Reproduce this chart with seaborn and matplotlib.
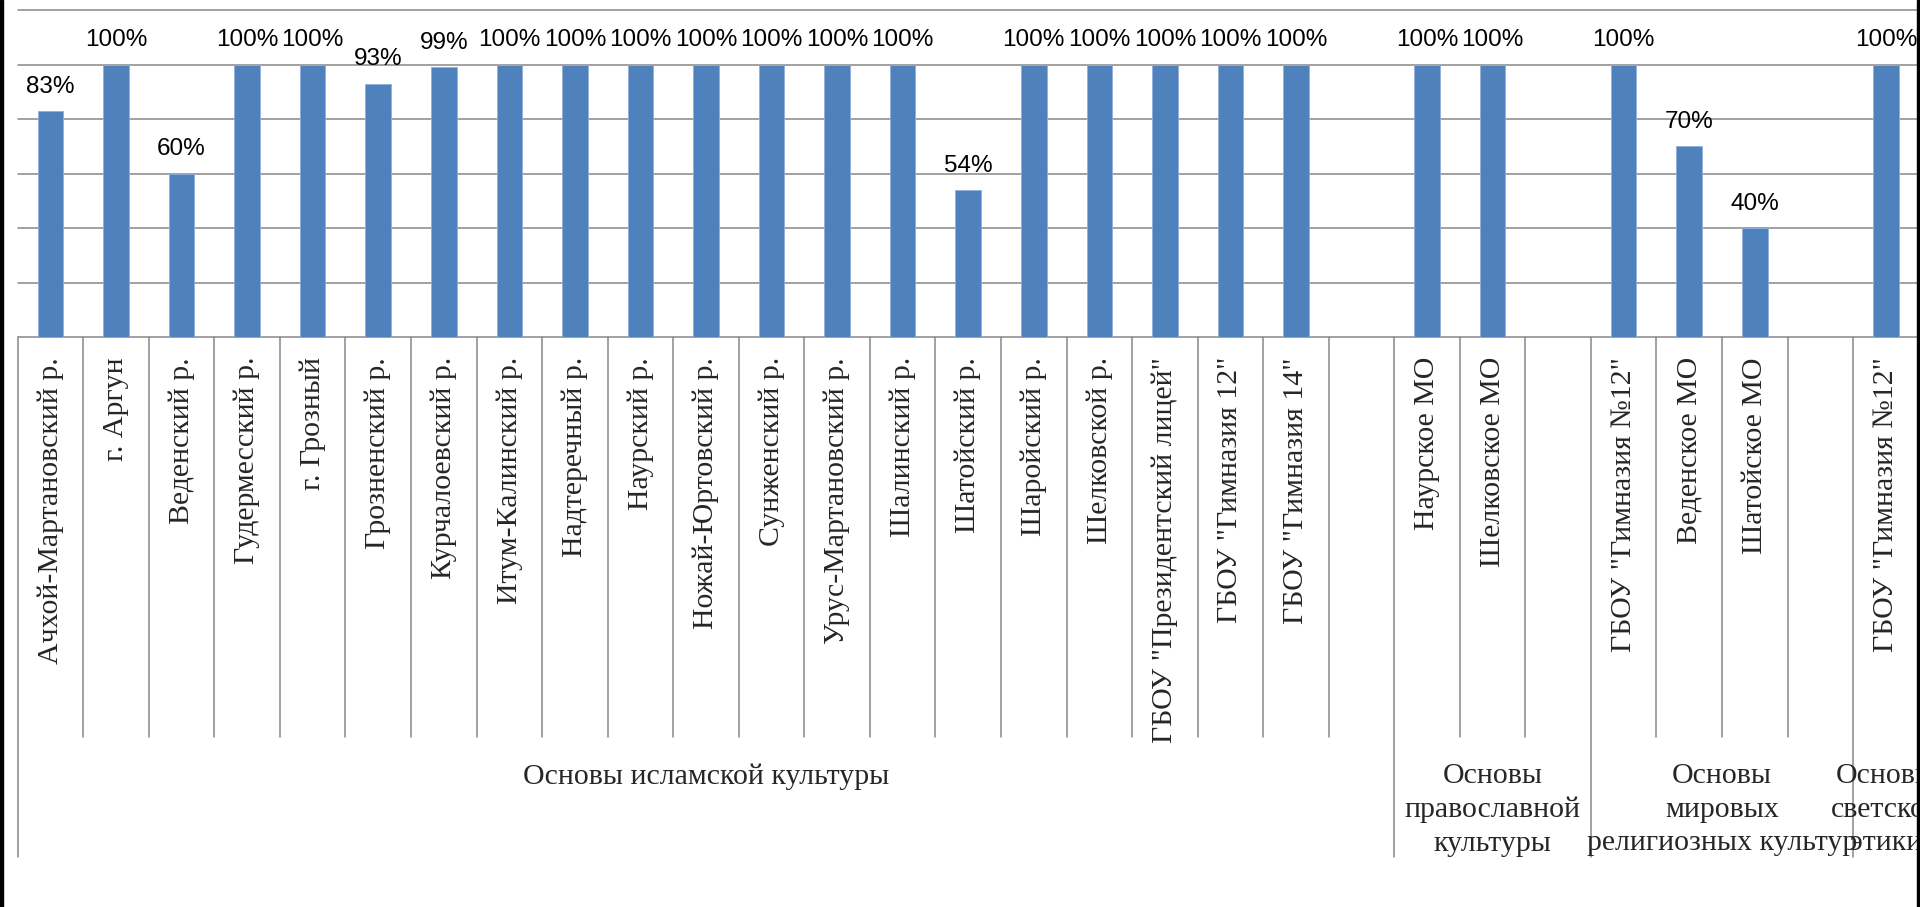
import matplotlib
matplotlib.use("Agg")
import matplotlib.pyplot as plt
import matplotlib.transforms as mtransforms
from matplotlib.patches import Rectangle
import numpy as np
import pandas as pd
import seaborn as sns

# ---------------- data ----------------
categories = [
    "Ачхой-Мартановский р.", "г. Аргун", "Веденский р.", "Гудермесский р.",
    "г. Грозный", "Грозненский р.", "Курчалоевский р.", "Итум-Калинский р.",
    "Надтеречный р.", "Наурский р.", "Ножай-Юртовский р.", "Сунженский р.",
    "Урус-Мартановский р.", "Шалинский р.", "Шатойский р.", "Шаройский р.",
    "Шелковской р.", "ГБОУ \"Президентский лицей\"", "ГБОУ \"Гимназия 12\"",
    "ГБОУ \"Гимназия 14\"", "",
    "Наурское МО", "Шелковское МО", "",
    "ГБОУ \"Гимназия №12\"", "Веденское МО", "Шатойское МО", "",
    "ГБОУ \"Гимназия №12\"",
]
values = [
    0.83, 1.00, 0.60, 1.00,
    1.00, 0.93, 0.99, 1.00,
    1.00, 1.00, 1.00, 1.00,
    1.00, 1.00, 0.54, 1.00,
    1.00, 1.00, 1.00,
    1.00, None,
    1.00, 1.00, None,
    1.00, 0.70, 0.40, None,
    1.00,
]
group_names = [
    "Основы исламской культуры",
    "Основы\nправославной\nкультуры",
    "Основы\nмировых\nрелигиозных культур",
    "Основы\nсветской\nэтики",
]
group_sizes = [21, 3, 4, 1]
y_ticks = [0.0, 0.2, 0.4, 0.6, 0.8, 1.0, 1.2]

# ---------------- style ----------------
sns.set_style("white")
plt.rcParams["font.family"] = ["Liberation Sans", "DejaVu Sans"]

BAR = "#4F81BD"
GRID = "#888888"
SERIF = ["Liberation Serif", "DejaVu Serif"]

W, H = 1920, 907
fig = plt.figure(figsize=(W / 100, H / 100), dpi=100)
left_px, right_px, top_px, bot_px = 17.7, 1918.7, 10, 337
ax = fig.add_axes([left_px / W, 1 - bot_px / H,
                   (right_px - left_px) / W, (bot_px - top_px) / H])

n = len(categories)
df = pd.DataFrame({"pos": list(range(n)), "value": values}).dropna()
df["pos"] = df["pos"].astype(int)

sns.barplot(data=df, x="pos", y="value", order=list(range(n)),
            color=BAR, saturation=1, width=0.39, errorbar=None,
            edgecolor="#8FB0DA", linewidth=0.6, ax=ax, zorder=3)

ax.set_xlim(-0.5, n - 0.5)
ax.set_ylim(y_ticks[0], y_ticks[-1])
ax.set_xlabel("")
ax.set_ylabel("")
ax.set_yticks([])
for s in ax.spines.values():
    s.set_visible(False)

# horizontal gridlines
for t in y_ticks:
    ax.axhline(t, color=GRID, lw=1.1, zorder=1, clip_on=False)

# data labels
for cont in ax.containers:
    ax.bar_label(cont, fmt=lambda v: f"{v * 100:.0f}%", padding=9.5,
                 fontsize=17.5, family=["Liberation Sans", "DejaVu Sans"],
                 color="#000000")

# category tick labels
ax.set_xticks(range(n))
ax.set_xticklabels(categories, rotation=90, fontsize=21.5, family=SERIF)
ax.tick_params(axis="x", length=0, pad=14.4)

# separators
trans = mtransforms.blended_transform_factory(ax.transData, ax.transAxes)
axes_h = bot_px - top_px
tick_bottom = (bot_px - 737) / axes_h
group_bottom = (bot_px - 857) / axes_h
boundaries = np.cumsum([0] + group_sizes)
for k in range(n + 1):
    yb = group_bottom if k in boundaries else tick_bottom
    ax.plot([k - 0.5, k - 0.5], [0, yb], color=GRID, lw=1.1,
            transform=trans, clip_on=False, zorder=1)

# group labels
label_top = (bot_px - 763) / axes_h
for name, start, size in zip(group_names, boundaries[:-1], group_sizes):
    cx = start + size / 2 - 0.5
    ax.text(cx, label_top, name, transform=trans, ha="center", va="top",
            fontsize=21.5, family=SERIF, linespacing=1.38, clip_on=False)

# black frame pieces at left/right edges
fig.add_artist(Rectangle((0, 0), 3 / W, 1, transform=fig.transFigure,
                         color="black", zorder=10))
fig.add_artist(Rectangle((1917 / W, 0), 3 / W, 1, transform=fig.transFigure,
                         color="black", zorder=10))

fig.savefig("out.png", dpi=100, facecolor="white")
